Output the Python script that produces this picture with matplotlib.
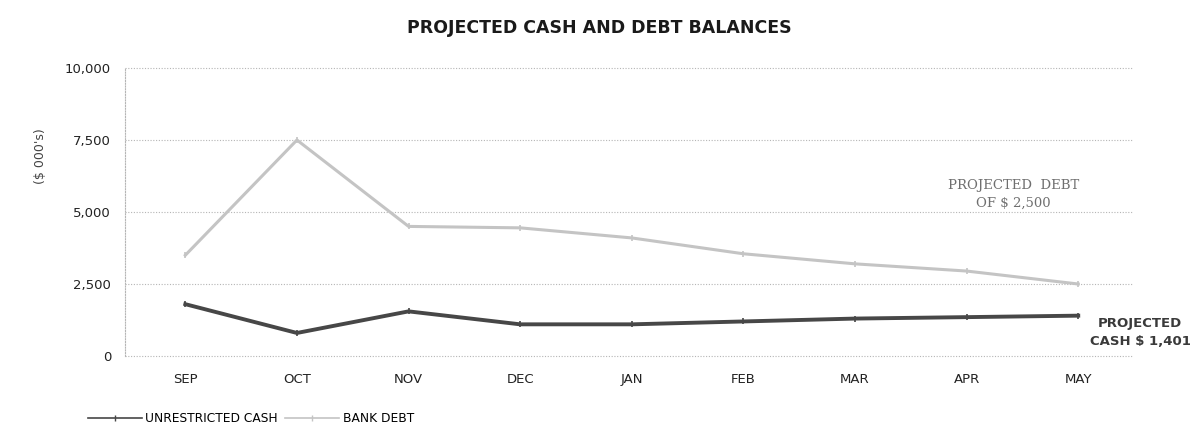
import matplotlib
matplotlib.use("Agg")
import matplotlib.pyplot as plt
from matplotlib.lines import Line2D

months = ["SEP", "OCT", "NOV", "DEC", "JAN", "FEB", "MAR", "APR", "MAY"]
unrestricted_cash = [1800, 800, 1550, 1100, 1100, 1200, 1300, 1350, 1401]
bank_debt = [3500, 7500, 4500, 4450, 4100, 3550, 3200, 2950, 2500]
y_ticks = [0, 2500, 5000, 7500, 10000]

plt.rcParams["font.family"] = ["DejaVu Sans"]

fig = plt.figure(figsize=(11.99, 4.34), dpi=100)
ax = fig.add_axes([0.1043, 0.1797, 0.8406, 0.6636])

x = range(len(months))
ax.plot(x, unrestricted_cash, color="#474747", lw=2.8,
        marker="|", ms=4, mew=1.2, zorder=4)
ax.plot(x, bank_debt, color="#c4c4c4", lw=2.2,
        marker="|", ms=4, mew=1.2, zorder=3)

ax.set_xlim(-0.54, 8.49)
ax.set_ylim(0, 10000)
ax.set_xticks(list(x))
ax.set_xticklabels(months, fontsize=9.5, color="#222222")
ax.set_yticks(y_ticks)
ax.set_yticklabels([f"{v:,}" for v in y_ticks], fontsize=9.5, color="#222222")
ax.tick_params(axis="both", length=0)
ax.tick_params(axis="x", pad=12)
ax.tick_params(axis="y", pad=10)

for v in y_ticks:
    ax.axhline(v, color="#b5b5b5", lw=0.8, ls=(0, (1, 1.5)), zorder=1, clip_on=False)
for s in ["top", "right", "bottom"]:
    ax.spines[s].set_visible(False)
ax.spines["left"].set_color("#b5b5b5")
ax.spines["left"].set_linestyle((0, (1, 1.5)))
ax.spines["left"].set_linewidth(0.8)

fig.text(0.5, 0.935, "PROJECTED CASH AND DEBT BALANCES", ha="center", va="center",
         fontsize=12.5, fontweight="bold", color="#1a1a1a")
fig.text(0.034, 0.64, "($ 000's)", rotation=90, ha="center", va="center",
         fontsize=9, color="#444444")

ax.text(7.42, 5600, "PROJECTED  DEBT\nOF $ 2,500", ha="center", va="center",
        fontsize=9.5, color="#6f6f6f", family="DejaVu Serif", linespacing=1.5)
fig.text(0.951, 0.235, "PROJECTED\nCASH $ 1,401", ha="center", va="center",
         fontsize=9.5, fontweight="bold", color="#3a3a3a", linespacing=1.5)

handles = [
    Line2D([], [], color="#474747", lw=1.2, marker="|", ms=4, mew=1.0,
           label="UNRESTRICTED CASH"),
    Line2D([], [], color="#c4c4c4", lw=1.2, marker="|", ms=4, mew=1.0,
           label="BANK DEBT"),
]
fig.legend(handles=handles, loc="lower left",
           bbox_to_anchor=(0.064, -0.005), ncol=2, frameon=False, fontsize=8.8,
           handlelength=4.4, handletextpad=0.3, columnspacing=0.6, numpoints=1)

fig.savefig("out.png", dpi=100)
